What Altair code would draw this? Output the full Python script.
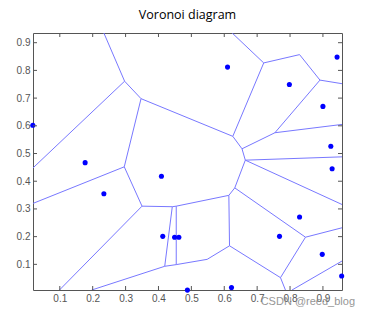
import altair as alt
import pandas as pd

title_text = "Voronoi diagram"
watermark = ["CSDN @reed_blog"]

# sites (points)
pt_x = [0.018, 0.177, 0.234, 0.409, 0.413, 0.449, 0.462, 0.488, 0.610, 0.622,
        0.798, 0.900, 0.943, 0.924, 0.928, 0.829, 0.768, 0.898, 0.957]
pt_y = [0.602, 0.467, 0.355, 0.418, 0.201, 0.198, 0.198, 0.007, 0.812, 0.016,
        0.749, 0.670, 0.848, 0.526, 0.445, 0.271, 0.201, 0.136, 0.058]

# Voronoi edges (start / end)
seg_x1 = [0.297, 0.297, 0.297, 0.347, 0.347, 0.296, 0.296, 0.350, 0.350, 0.442,
          0.454, 0.442, 0.454, 0.419, 0.454, 0.548, 0.419, 0.614, 0.614, 0.632,
          0.632, 0.664, 0.654, 0.626, 0.720, 0.720, 0.829, 0.891, 0.891, 0.754,
          0.754, 0.664, 0.664, 0.847, 0.847, 0.616, 0.771, 0.806]
seg_y1 = [0.761, 0.761, 0.761, 0.698, 0.698, 0.452, 0.452, 0.310, 0.310, 0.308,
          0.310, 0.308, 0.310, 0.093, 0.099, 0.118, 0.093, 0.349, 0.349, 0.376,
          0.376, 0.476, 0.517, 0.562, 0.827, 0.827, 0.857, 0.765, 0.765, 0.575,
          0.575, 0.476, 0.476, 0.198, 0.198, 0.167, 0.052, 0.0074]
seg_x2 = [0.234, 0.0185, 0.347, 0.296, 0.626, 0.0185, 0.350, 0.099, 0.442, 0.454,
          0.614, 0.419, 0.454, 0.454, 0.548, 0.616, 0.197, 0.616, 0.632, 0.664,
          0.847, 0.654, 0.626, 0.720, 0.624, 0.829, 0.891, 0.958, 0.754, 0.958,
          0.654, 0.958, 0.958, 0.958, 0.771, 0.771, 0.786, 0.958]
seg_y2 = [0.935, 0.448, 0.698, 0.452, 0.562, 0.320, 0.310, 0.0074, 0.308, 0.310,
          0.349, 0.093, 0.099, 0.099, 0.118, 0.167, 0.0074, 0.167, 0.376, 0.476,
          0.198, 0.517, 0.562, 0.827, 0.935, 0.857, 0.765, 0.752, 0.575, 0.605,
          0.517, 0.488, 0.316, 0.232, 0.052, 0.052, 0.0074, 0.112]

x_ticks = [0.1, 0.2, 0.3, 0.4, 0.5, 0.6, 0.7, 0.8, 0.9]
y_ticks = [0.1, 0.2, 0.3, 0.4, 0.5, 0.6, 0.7, 0.8, 0.9]
x_domain = [0.0185, 0.958]
y_domain = [0.0074, 0.935]

W, H = 309, 257
TICK = 4

pts = pd.DataFrame({"x": pt_x, "y": pt_y})
segs = pd.DataFrame({"x": seg_x1, "y": seg_y1, "x2": seg_x2, "y2": seg_y2})
xt = pd.DataFrame({"x": x_ticks})
yt = pd.DataFrame({"y": y_ticks})
wm = pd.DataFrame({"label": watermark})

xs = alt.Scale(domain=x_domain, nice=False, zero=False)
ys = alt.Scale(domain=y_domain, nice=False, zero=False)
xa = alt.Axis(values=x_ticks, format=".1f", title=None, labelOverlap=False, labelFlush=False)
ya = alt.Axis(values=y_ticks, format=".1f", title=None, labelOverlap=False, labelFlush=False)

X = alt.X("x:Q", scale=xs, axis=xa, title=None)
Y = alt.Y("y:Q", scale=ys, axis=ya, title=None)

edges = alt.Chart(segs).mark_rule(color="#7878ff", strokeWidth=1, clip=True).encode(
    x=X, y=Y, x2="x2:Q", y2="y2:Q",
)

points = alt.Chart(pts).mark_circle(color="#0000ff", opacity=1, size=26).encode(x=X, y=Y)

tick_col = "#555555"
xb = alt.Chart(xt).mark_rule(color=tick_col, strokeWidth=1).encode(
    x=X, y=alt.value(H), y2=alt.value(H - TICK))
xtop = alt.Chart(xt).mark_rule(color=tick_col, strokeWidth=1).encode(
    x=X, y=alt.value(0), y2=alt.value(TICK))
yl = alt.Chart(yt).mark_rule(color=tick_col, strokeWidth=1).encode(
    y=Y, x=alt.value(0), x2=alt.value(TICK))
yr = alt.Chart(yt).mark_rule(color=tick_col, strokeWidth=1).encode(
    y=Y, x=alt.value(W), x2=alt.value(W - TICK))

wmark = alt.Chart(wm).mark_text(align="right", baseline="middle", fontSize=11,
                                font="Liberation Sans", color="#8c8c8c", opacity=0.9).encode(
    text="label:N", x=alt.value(W + 13), y=alt.value(H + 12))

chart = alt.layer(edges, points, xb, xtop, yl, yr, wmark).properties(
    width=W,
    height=H,
    title=alt.TitleParams(title_text, font="Open Sans", fontSize=12.5, fontWeight="normal",
                          color="#000000", offset=11, anchor="middle"),
    autosize=alt.AutoSizeParams(type="none"),
    padding={"left": 33, "top": 33, "right": 28, "bottom": 28},
).configure_view(stroke="#555555", strokeWidth=1).configure_axis(
    domain=False, ticks=False, grid=False, labelFont="Liberation Sans",
    labelFontSize=10, labelColor="#555555", labelPadding=3, labelOverlap=False,
)

chart.save("out.html", embed_options={"renderer": "svg", "actions": False})
